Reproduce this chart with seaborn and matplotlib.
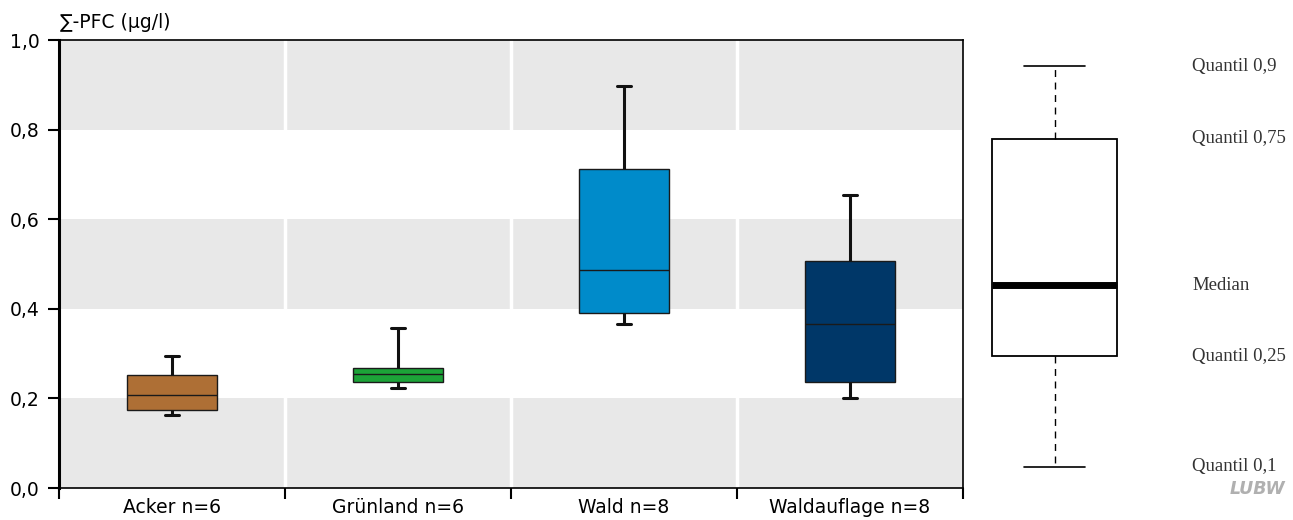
import pandas as pd
import matplotlib.pyplot as plt
import seaborn as sns

# box statistics per land use (quantile 0.1, 0.25, median, 0.75, 0.9)
categories = ["Acker n=6", "Grünland n=6", "Wald n=8", "Waldauflage n=8"]
q10 = [0.163, 0.224, 0.365, 0.200]
q25 = [0.174, 0.236, 0.391, 0.237]
median = [0.207, 0.254, 0.486, 0.367]
q75 = [0.252, 0.267, 0.712, 0.506]
q90 = [0.294, 0.357, 0.898, 0.653]
colors = ["#AE6F35", "#1CA338", "#008BCA", "#003768"]

# schematic legend box
legend_labels = ["Quantil 0,1", "Quantil 0,25", "Median", "Quantil 0,75", "Quantil 0,9"]
legend_values = [0.047, 0.294, 0.453, 0.780, 0.941]

yticks = [0.0, 0.2, 0.4, 0.6, 0.8, 1.0]
ytick_labels = ["0,0", "0,2", "0,4", "0,6", "0,8", "1,0"]

# five points per group -> quartiles/median exact, whiskers at min/max = q10/q90
rows = []
for i, cat in enumerate(categories):
    for v in (q10[i], q25[i], median[i], q75[i], q90[i]):
        rows.append({"cat": cat, "val": v})
df = pd.DataFrame(rows)

sns.set_style("white")
plt.rcParams["font.family"] = ["DejaVu Sans"]
plt.rcParams["text.color"] = "black"
plt.rcParams["xtick.color"] = "black"
plt.rcParams["ytick.color"] = "black"

fig = plt.figure(figsize=(12.93, 5.2), dpi=100)
ax = fig.add_axes([59 / 1293, 32 / 520, 904 / 1293, 448 / 520])

# grey bands
for lo in (0.0, 0.4, 0.8):
    ax.axhspan(lo, lo + 0.2, color="#E8E8E8", zorder=0, lw=0)
for x in (0.5, 1.5, 2.5):
    ax.axvline(x, color="white", lw=2.5, zorder=0.5)

sns.boxplot(data=df, x="cat", y="val", hue="cat", palette=colors, legend=False,
            order=categories, hue_order=categories, whis=(0, 100), width=0.4,
            linecolor="#1a1a1a", linewidth=1.0, saturation=1, ax=ax,
            capwidths=0.06,
            whiskerprops=dict(linewidth=2.2, color="#111"),
            capprops=dict(linewidth=2.2, color="#111"),
            medianprops=dict(linewidth=1.0, color="#1a1a1a"),
            boxprops=dict(zorder=2))

ax.set_xlim(-0.5, 3.5)
ax.set_ylim(0, 1.0)
ax.set_yticks(yticks)
ax.set_yticklabels(ytick_labels, fontsize=13.5)
ax.set_xticks([-0.5, 0.5, 1.5, 2.5, 3.5])
ax.set_xticklabels([])
ax.set_xticks(range(4), minor=True)
ax.set_xticklabels(categories, minor=True, fontsize=13.5)
ax.tick_params(axis="x", which="major", bottom=True, direction="out", length=8, width=1.5,
               color="black")
ax.tick_params(axis="x", which="minor", bottom=True, length=0, pad=7)
ax.tick_params(axis="y", left=True, direction="out", length=8, width=1.5, color="black", pad=6)
ax.set_xlabel("")
ax.set_ylabel("")
for side in ("top", "right", "bottom"):
    ax.spines[side].set_visible(True)
    ax.spines[side].set_linewidth(1.2)
    ax.spines[side].set_color("black")
ax.spines["left"].set_linewidth(2.2)
ax.spines["left"].set_color("black")

fig.text(60 / 1293, 1 - 22 / 520, "∑-PFC (µg/l)", fontsize=13.5, va="center", ha="left")

# legend explanation box
lax = fig.add_axes([960 / 1293, 32 / 520, 190 / 1293, 448 / 520])
leg_df = pd.DataFrame({"x": ["a"] * len(legend_values), "val": legend_values})
sns.boxplot(data=leg_df, x="x", y="val", whis=(0, 100), width=125 / 190, ax=lax,
            color="white", linecolor="black", linewidth=1.3, saturation=1,
            capwidths=61 / 190,
            whiskerprops=dict(linestyle=(0, (5, 4)), linewidth=1.0),
            capprops=dict(linewidth=1.2),
            medianprops=dict(linewidth=5, color="black"))
lax.set_xlim(-(1054.5 - 960) / 190, (1150 - 1054.5) / 190)
lax.set_ylim(0, 1.0)
lax.axis("off")
for lab, v in zip(legend_labels, legend_values):
    fig.text(1192 / 1293, 32 / 520 + v * 448 / 520, lab, family=["Liberation Serif", "DejaVu Serif"],
             fontsize=13.5, color="#333333", va="center", ha="left")

fig.text(1257 / 1293, 1 - 489 / 520, "LUBW", fontsize=12.5, fontweight="bold", style="italic",
         color="#B0B0B0", ha="center", va="center")

fig.savefig("out.png", dpi=100)
